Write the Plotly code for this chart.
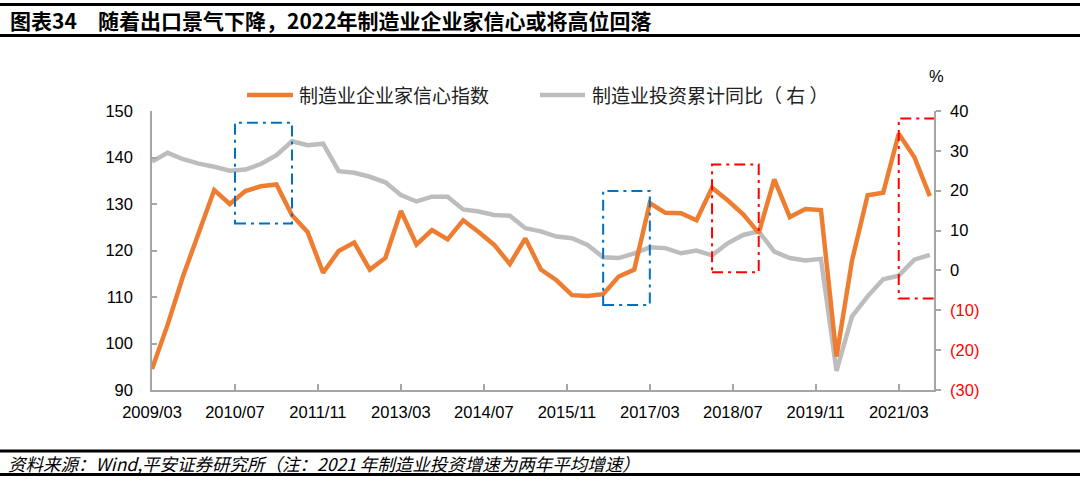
import plotly.graph_objects as go

# ---------------- data ----------------
# quarterly observations 2009/03 ... 2021/09
dates = [f"{2009 + (2 + 3 * i) // 12}/{(2 + 3 * i) % 12 + 1:02d}" for i in range(51)]

confidence = [
    94.5, 104.0, 114.5, 123.5, 133.0, 130.0, 132.8, 133.8, 134.2, 127.6,
    124.0, 115.2, 119.9, 121.7, 115.9, 118.4, 128.5, 121.3, 124.4, 122.4,
    126.5, 124.0, 121.2, 117.1, 122.6, 115.9, 113.6, 110.4, 110.2, 110.6,
    114.4, 115.9, 130.2, 128.1, 128.0, 126.5, 133.5, 130.8, 127.8, 123.8,
    135.3, 127.2, 128.9, 128.7, 97.2, 117.9, 131.9, 132.4, 145.1, 140.1,
    131.7,
]

investment_yoy = [
    27.3, 29.5, 27.9, 26.8, 26.0, 25.0, 25.3, 26.7, 28.9, 32.4,
    31.4, 31.8, 24.9, 24.5, 23.5, 22.1, 18.9, 17.3, 18.5, 18.5,
    15.3, 14.8, 13.9, 13.7, 10.6, 9.8, 8.5, 8.1, 6.4, 3.3,
    3.1, 4.3, 5.8, 5.6, 4.3, 5.0, 3.8, 6.8, 8.9, 9.8,
    4.7, 3.1, 2.5, 2.9, -25.2, -11.5, -6.5, -2.2, -1.3, 2.7,
    3.9,
]

x_tick_labels = ["2009/03", "2010/07", "2011/11", "2013/03", "2014/07",
                 "2015/11", "2017/03", "2018/07", "2019/11", "2021/03"]
left_ticks = [90, 100, 110, 120, 130, 140, 150]
right_ticks = [-30, -20, -10, 0, 10, 20, 30, 40]
right_tick_labels = ['<span style="color:#FF0000">(30)</span>',
                     '<span style="color:#FF0000">(20)</span>',
                     '<span style="color:#FF0000">(10)</span>',
                     "0", "10", "20", "30", "40"]

series_names = ["制造业企业家信心指数", "制造业投资累计同比（ 右 ）"]
title_label = "图表34"
title_text = "随着出口景气下降，2022年制造业企业家信心或将高位回落"
source_text = "资料来源：Wind,平安证券研究所（注：2021 年制造业投资增速为两年平均增速）"


def month_index(s):
    y, m = s.split("/")
    return (int(y) - 2009) * 12 + int(m) - 3


x = [month_index(d) for d in dates]
x_tick_vals = [month_index(d) for d in x_tick_labels]

# highlight boxes: (start, end, low, high) on month axis / left axis
boxes = [
    ("2010/07", "2011/06", 125.8, 147.5, "#0070C0"),
    ("2016/06", "2017/03", 108.3, 132.8, "#0070C0"),
    ("2018/03", "2018/12", 115.3, 138.5, "#FF0000"),
    ("2021/03", "2021/10", 109.7, 148.4, "#FF0000"),
]

ORANGE = "#ED7D31"
GRAY = "#BDBDBD"
AXIS = "#A6A6A6"
LATIN = "Liberation Sans, Arial, Noto Sans CJK SC"
CJK = "Noto Sans CJK SC, Liberation Sans"
colors = [ORANGE, GRAY]

# gray series on the base (right-side) axis, orange on the overlaying left axis so it draws on top
fig = go.Figure()
fig.add_trace(go.Scatter(x=x, y=investment_yoy, name=series_names[1], mode="lines",
                         line=dict(color=GRAY, width=4.5), yaxis="y"))
fig.add_trace(go.Scatter(x=x, y=confidence, name=series_names[0], mode="lines",
                         line=dict(color=ORANGE, width=4.5), yaxis="y2"))

L, R, T, B, W, H = 152, 146, 111, 93, 1080, 483
pw, ph = W - L - R, H - T - B


def px_x(p):
    return (p - L) / pw


def px_y(p):
    return (H - B - p) / ph


shapes = []
for s, e, lo, hi, c in boxes:
    shapes.append(dict(type="rect", xref="x", yref="y2", x0=month_index(s), x1=month_index(e),
                       y0=lo, y1=hi, line=dict(color=c, width=2, dash="11px,5px,3px,5px"),
                       fillcolor="rgba(0,0,0,0)", layer="above"))
for yy, wd in [(4.5, 3), (35.5, 3), (451, 3), (474.5, 3)]:
    shapes.append(dict(type="line", xref="paper", yref="paper", x0=px_x(0), x1=px_x(W),
                       y0=px_y(yy), y1=px_y(yy), line=dict(color="#000000", width=wd)))

# custom legend (sample line + label)
legend_pos = [(247, 293, 297), (540, 585, 590)]
annotations = []
for (a, b, t), name, c in zip(legend_pos, series_names, colors):
    shapes.append(dict(type="line", xref="paper", yref="paper", x0=px_x(a), x1=px_x(b),
                       y0=px_y(95), y1=px_y(95), line=dict(color=c, width=4.5)))
    annotations.append(dict(text=name, xref="paper", yref="paper", x=px_x(t), y=px_y(94),
                            xanchor="left", yanchor="middle", showarrow=False,
                            font=dict(family=CJK, size=19, color="#222")))

annotations += [
    dict(text=f"<b>{title_label}</b>", xref="paper", yref="paper", x=px_x(8), y=px_y(20),
         xanchor="left", yanchor="middle", showarrow=False,
         font=dict(family=CJK, size=21, color="#000")),
    dict(text=f"<b>{title_text}</b>", xref="paper", yref="paper", x=px_x(96), y=px_y(20),
         xanchor="left", yanchor="middle", showarrow=False,
         font=dict(family=CJK, size=21, color="#000")),
    dict(text=source_text, xref="paper", yref="paper", x=px_x(6), y=px_y(463),
         xanchor="left", yanchor="middle", showarrow=False,
         font=dict(family=CJK, size=17.5, color="#000", style="italic")),
    dict(text="%", xref="paper", yref="paper", x=px_x(937), y=px_y(76),
         xanchor="center", yanchor="middle", showarrow=False,
         font=dict(family=LATIN, size=16.5, color="#000")),
]

fig.update_layout(
    width=W, height=H,
    margin=dict(l=L, r=R, t=T, b=B),
    paper_bgcolor="white", plot_bgcolor="white",
    showlegend=False,
    xaxis=dict(range=[0, 150.8], tickvals=x_tick_vals, ticktext=x_tick_labels,
               ticks="inside", ticklen=6, tickcolor=AXIS, tickwidth=1.5,
               showline=True, linecolor=AXIS, linewidth=1.5, showgrid=False, zeroline=False,
               tickfont=dict(family=LATIN, size=16.5, color="#000"), ticklabelstandoff=6),
    yaxis2=dict(range=[90, 150], tickvals=left_ticks, ticks="inside", ticklen=5,
                overlaying="y", side="left",
                tickcolor=AXIS, tickwidth=1.5, showline=True, linecolor=AXIS, linewidth=1.5,
                showgrid=False, zeroline=False, ticklabelstandoff=14,
                tickfont=dict(family=LATIN, size=16.5, color="#000")),
    yaxis=dict(range=[-30, 40], tickvals=right_ticks, ticktext=right_tick_labels,
               side="right", ticks="outside", ticklen=5,
               tickcolor=AXIS, tickwidth=1.5, showline=True, linecolor=AXIS, linewidth=1.5,
               showgrid=False, zeroline=False, ticklabelstandoff=6,
               tickfont=dict(family=LATIN, size=16.5, color="#000")),
    shapes=shapes,
    annotations=annotations,
)

fig.write_html("out.html", config={"displayModeBar": False},
               post_script="document.body.style.margin='0';")
